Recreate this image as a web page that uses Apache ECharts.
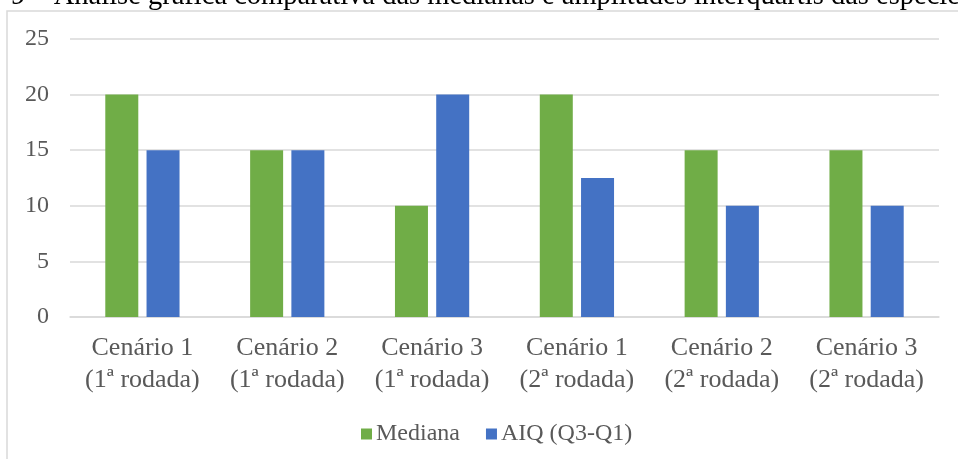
<!DOCTYPE html>
<html>
<head>
<meta charset="utf-8">
<script src="https://cdn.jsdelivr.net/npm/echarts@6/dist/echarts.min.js"></script>
<style>html,body{margin:0;padding:0;background:#fff;}#c{width:958px;height:459px;}</style>
</head>
<body>
<div id="c"></div>
<script>
const categories = ["Cenário 1\n(1ª rodada)", "Cenário 2\n(1ª rodada)", "Cenário 3\n(1ª rodada)", "Cenário 1\n(2ª rodada)", "Cenário 2\n(2ª rodada)", "Cenário 3\n(2ª rodada)"];
const mediana = [20, 15, 10, 20, 15, 15];
const aiq = [15, 15, 20, 12.5, 10, 10];
const seriesNames = ["Mediana", "AIQ (Q3-Q1)"];
const captionText = "9 – Análise gráfica comparativa das medianas e amplitudes interquartis das espécies";

const font = "'Liberation Serif', 'Times New Roman', serif";
const chart = echarts.init(document.getElementById('c'));
chart.setOption({
  animation: false,
  backgroundColor: '#fff',
  graphic: [
    { type: 'rect', shape: { x: 7, y: 11, width: 1000, height: 500 }, style: { fill: 'none', stroke: '#d9d9d9', lineWidth: 1.5 }, silent: true, z: -1 },
    { type: 'text', x: 11, y: 11, style: { text: captionText, font: "28.5px " + font, fill: '#000', verticalAlign: 'bottom' } }
  ],
  grid: { left: 70, right: 19, top: 39, bottom: 142 },
  legend: {
    bottom: 8, left: 356,
    itemWidth: 11, itemHeight: 11, itemGap: 26,
    icon: 'rect',
    textStyle: { fontFamily: font, fontSize: 24, color: '#595959', padding: [0, 0, 0, -1] },
    data: seriesNames
  },
  xAxis: {
    type: 'category',
    data: categories,
    axisLine: { lineStyle: { color: '#d9d9d9', width: 1.5 } },
    axisTick: { show: false },
    axisLabel: { fontFamily: font, fontSize: 26, color: '#595959', lineHeight: 32, margin: 15, interval: 0 }
  },
  yAxis: {
    type: 'value', min: 0, max: 25, interval: 5,
    axisLine: { show: false }, axisTick: { show: false },
    splitLine: { lineStyle: { color: '#d9d9d9', width: 1.5 } },
    axisLabel: { fontFamily: font, fontSize: 24, color: '#595959', margin: 21 }
  },
  series: [
    { name: seriesNames[0], type: 'bar', data: mediana, barWidth: 33, barGap: '25%', itemStyle: { color: '#70AD47' } },
    { name: seriesNames[1], type: 'bar', data: aiq, barWidth: 33, barGap: '25%', itemStyle: { color: '#4472C4' } }
  ]
});
</script>
</body>
</html>
